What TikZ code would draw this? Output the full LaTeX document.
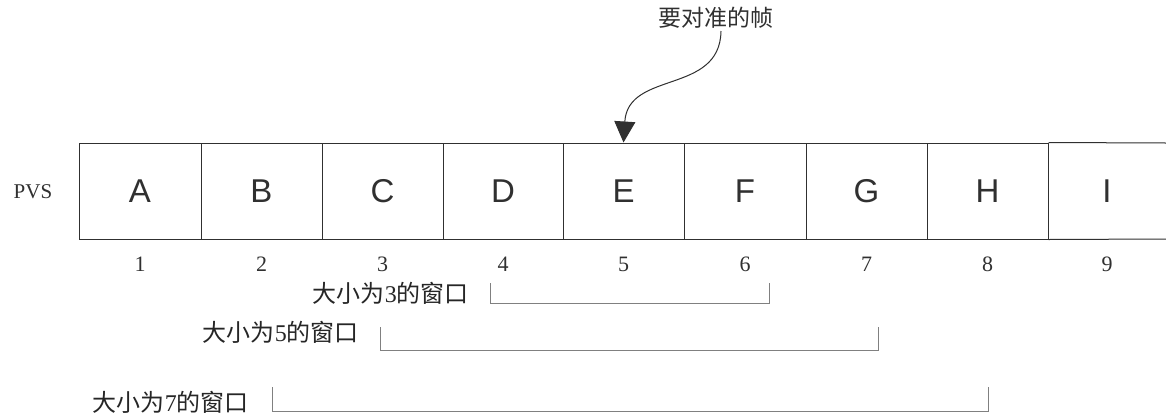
\documentclass[tikz,border=0pt]{standalone}
\usepackage{fontspec}
\setmainfont{Liberation Serif}
\newfontfamily\arialf{Liberation Sans}
\newfontfamily\cjk{Noto Sans CJK SC}
\usetikzlibrary{arrows.meta}
\definecolor{boxline}{HTML}{303030}
\definecolor{brline}{HTML}{808080}
\tikzset{
  frame/.style={draw=boxline,line width=1pt,minimum height=96pt,inner sep=0pt,font=\arialf\fontsize{33}{33}\selectfont,text=boxline},
  openframe/.style={minimum height=96pt,inner sep=0pt,font=\arialf\fontsize{33}{33}\selectfont,text=boxline},
  idx/.style={font=\fontsize{22}{22}\selectfont,inner sep=0pt,text=boxline},
  winlabel/.style={anchor=east,inner sep=0pt,font=\fontsize{24}{24}\selectfont,text=black!85},
  bracket/.style={draw=brline,line width=1pt},
  pointer/.style={draw=boxline,line width=1pt,-{Triangle[length=21pt,width=21pt]}}
}
\begin{document}
\begin{tikzpicture}[x=1pt,y=-1pt]
\useasboundingbox (0,0) rectangle (1166,418);
% boxes
\foreach \l/\a/\b [count=\i] in {A/79/201,B/201/322,C/322/443,D/443/563,E/563/684,F/684/806,G/806/927,H/927/1048}{
  \node[frame,minimum width={(\b-\a)*1pt}] (b\i) at ({(\a+\b)/2},191) {\l};
  \node[idx] (n\i) at ({(\a+\b)/2},264) {\i};
}
\node[openframe,minimum width=118pt] (b9) at (1107,191) {I};
\node[idx] (n9) at (1107,264) {9};
\coordinate (rt) at (1166,143);
\coordinate (rb) at (1166,239);
\draw[draw=boxline,line width=1pt] (b8.north east) -- (rt);
\draw[draw=boxline,line width=1pt] (b8.south east) -- (rb);
% PVS
\node[font=\fontsize{21}{21}\selectfont,inner sep=0pt,text=boxline] (pvs) at (33,192) {PVS};
% pointer
\node[font=\cjk\fontsize{23}{23}\selectfont,inner sep=0pt,text=boxline] (tgt) at (716,18) {要对准的帧};
\coordinate (ts) at (721,31);
\draw[pointer] (ts) .. controls (720,95) and (628,70) .. (b5.north);
% brackets
\coordinate (w3a) at (490,283); \coordinate (w3b) at (490,303);
\coordinate (w3c) at (769,303); \coordinate (w3d) at (769,283);
\draw[bracket] (w3a) -- (w3b) -- (w3c) -- (w3d);
\node[winlabel] (l3) at (469,293) {{\cjk 大小为}3{\cjk 的窗口}};
\coordinate (w5a) at (380,327); \coordinate (w5b) at (380,350);
\coordinate (w5c) at (878,350); \coordinate (w5d) at (878,327);
\draw[bracket] (w5a) -- (w5b) -- (w5c) -- (w5d);
\node[winlabel] (l5) at (359,332) {{\cjk 大小为}5{\cjk 的窗口}};
\coordinate (w7a) at (272,387); \coordinate (w7b) at (272,411);
\coordinate (w7c) at (988,411); \coordinate (w7d) at (988,387);
\draw[bracket] (w7a) -- (w7b) -- (w7c) -- (w7d);
\node[winlabel] (l7) at (249,402) {{\cjk 大小为}7{\cjk 的窗口}};
\end{tikzpicture}
\end{document}
